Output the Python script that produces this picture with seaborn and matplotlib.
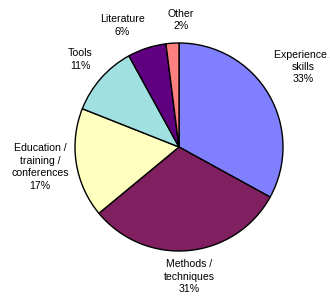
import numpy as np
from matplotlib import pyplot as plt
import seaborn as sns

categories = ['Experience /\nskills', 'Methods /\ntechniques', 'Education /\ntraining /\nconferences',
              'Tools', 'Literature', 'Other']
shares = [33, 31, 17, 11, 6, 2]
colors = ['#8080FF', '#802060', '#FFFFC0', '#A0E0E0', '#600080', '#FF8080']

# label placement (radius in pie units, angle nudge in degrees)
label_dist = [1.42, 1.25, 1.35, 1.27, 1.29, 1.22]
label_nudge = [2.2, -1.0, -0.8, 0.0, 7.0, -4.5]

sns.set_theme(style='white')
plt.rcParams['font.family'] = ['Liberation Sans', 'DejaVu Sans']

fig = plt.figure(figsize=(3.3, 2.96), dpi=100)
ax = fig.add_axes([75 / 330, 45 / 296, 208 / 330, 208 / 296])

wedges, _ = ax.pie(
    shares,
    colors=colors,
    startangle=90,
    counterclock=False,
    wedgeprops=dict(edgecolor='black', linewidth=1.0),
)
ax.set_xlim(-1, 1)
ax.set_ylim(-1, 1)
ax.set_aspect('equal')
ax.axis('off')

for w, name, v, d, n in zip(wedges, categories, shares, label_dist, label_nudge):
    ang = np.deg2rad((w.theta1 + w.theta2) / 2 + n)
    ax.text(d * np.cos(ang), d * np.sin(ang), f'{name}\n{v}%',
            ha='center', va='center', fontsize=7.6, linespacing=1.3,
            color='black', clip_on=False)

plt.savefig('out.png', dpi=100)
plt.close()
